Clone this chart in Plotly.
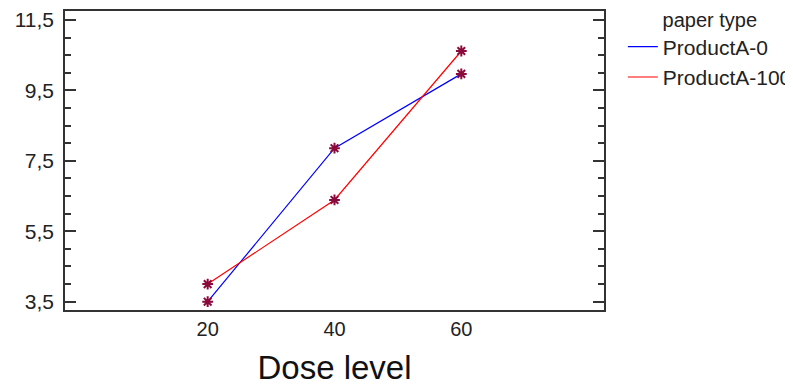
import plotly.graph_objects as go

dose = [20, 40, 60]
series_names = ["ProductA-0", "ProductA-100"]
product_a0 = [3.5, 7.86, 9.97]
product_a100 = [4.0, 6.39, 10.62]
y_ticks = [3.5, 5.5, 7.5, 9.5, 11.5]
x_ticks = [20, 40, 60]

line_colors = ["#0000FF", "#FF0000"]
marker_color = "#8B0A3C"
FAM = "Liberation Sans, Arial, sans-serif"

fig = go.Figure()
for name, vals, col in zip(series_names, [product_a0, product_a100], line_colors):
    fig.add_trace(go.Scatter(
        x=dose, y=vals, name=name, mode="lines",
        line=dict(color=col, width=1.2),
    ))
for vals in [product_a0, product_a100]:
    fig.add_trace(go.Scatter(
        x=dose, y=vals, mode="markers", showlegend=False, hoverinfo="skip",
        marker=dict(symbol="asterisk-open", size=9, color=marker_color,
                    line=dict(color=marker_color, width=2)),
    ))

x_font = dict(family=FAM, size=20, color="#222222")
y_font = dict(family=FAM, size=21, color="#222222")
fig.update_layout(
    width=793, height=388,
    margin=dict(l=57, r=197, t=3, b=86, autoexpand=False),
    paper_bgcolor="white", plot_bgcolor="white",
    separators=",.",
    font=x_font,
    showlegend=True,
    legend=dict(
        x=1.035, y=1.035, xanchor="left", yanchor="top",
        title=dict(text="paper type", side="top center",
                   font=dict(family=FAM, size=20, color="#222222")),
        font=dict(family=FAM, size=21, color="#222222"),
        bgcolor="rgba(0,0,0,0)", tracegroupgap=0, itemwidth=30,
    ),
    xaxis=dict(
        range=[-2.5, 82.5], tickvals=x_ticks, ticks="", showgrid=False, zeroline=False,
        showline=True, linecolor="#333333", linewidth=1.5, mirror=True,
        title=dict(text="Dose level", font=dict(family=FAM, size=33, color="#111111"), standoff=17),
        tickfont=x_font,
    ),
    yaxis=dict(
        range=[3.264, 11.756], tickvals=y_ticks, tickformat=".1f",
        ticks="inside", ticklen=11, tickwidth=1.5, tickcolor="#333333",
        minor=dict(dtick=0.5, tick0=3.5, ticks="inside", ticklen=6, tickwidth=1.5, tickcolor="#333333"),
        showgrid=False, zeroline=False,
        showline=True, linecolor="#333333", linewidth=1.5, mirror="allticks",
        tickfont=y_font, ticklabelstandoff=5,
    ),
)

fig.write_html("out.html")
